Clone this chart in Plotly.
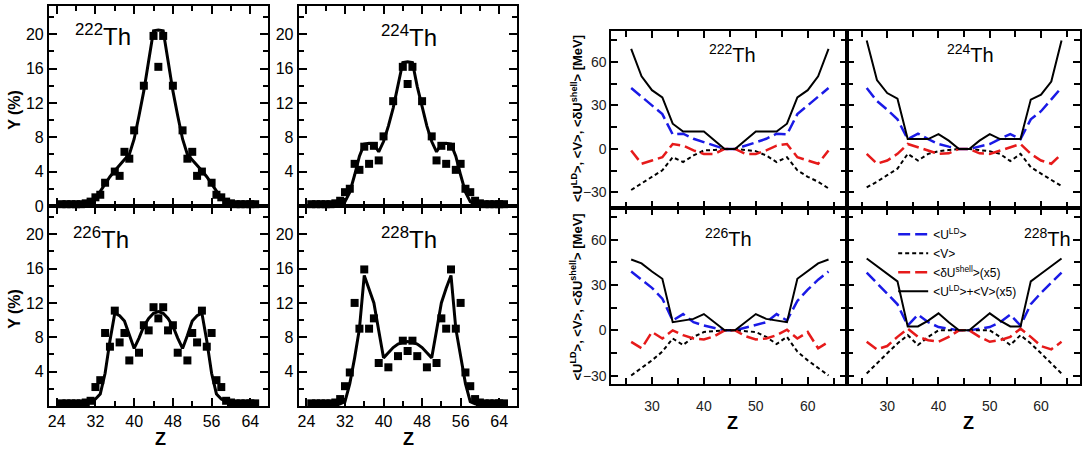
import plotly.graph_objects as go

FONT = "Liberation Sans, Arial, Helvetica, sans-serif"

# ---------------- Left: fragment yields Y(%) vs Z ----------------
Z_LINE = list(range(25, 66))

line_222 = [0.05, 0.05, 0.1, 0.1, 0.15, 0.25, 0.45, 0.9, 1.7, 2.6, 3.4, 4.1, 4.8, 5.4, 6.0, 7.8, 10.5, 13.4, 16.9, 20.4,
            20.5,
            20.4, 16.9, 13.4, 10.5, 7.8, 6.0, 5.4, 4.8, 4.1, 3.4, 2.6, 1.7, 0.9, 0.45, 0.25, 0.15, 0.1, 0.1, 0.05, 0.05]
line_224 = [0.02, 0.02, 0.03, 0.05, 0.08, 0.12, 0.2, 0.5, 1.6, 3.6, 5.8, 7.2, 7.3, 7.2, 6.3, 7.5, 9.3, 11.4, 13.9, 16.7,
            16.8,
            16.7, 13.9, 11.4, 9.3, 7.5, 6.3, 7.2, 7.3, 7.2, 5.8, 3.6, 1.6, 0.5, 0.2, 0.12, 0.08, 0.05, 0.03, 0.02, 0.02]
line_226 = [0.2, 0.2, 0.25, 0.3, 0.3, 0.4, 0.5, 0.8, 1.4, 3.8, 7.6, 10.8, 10.5, 9.9, 8.2, 6.7, 7.9, 9.3, 10.2, 10.8,
            11.0,
            10.8, 10.2, 9.3, 7.9, 6.7, 8.2, 9.9, 10.5, 10.8, 7.6, 3.8, 1.4, 0.8, 0.5, 0.4, 0.3, 0.3, 0.25, 0.2, 0.2]
line_228 = [0.05, 0.05, 0.05, 0.08, 0.1, 0.15, 0.25, 0.5, 2.6, 5.6, 9.0, 15.2, 13.7, 12.0, 8.8, 5.6, 6.2, 6.8, 7.2, 7.4,
            7.5,
            7.4, 7.2, 6.8, 6.2, 5.6, 8.8, 12.0, 13.7, 15.2, 9.0, 5.6, 2.6, 0.5, 0.25, 0.15, 0.1, 0.08, 0.05, 0.05, 0.05]

z_222 = [25, 26, 27, 28, 29, 30, 31, 32, 33, 34, 36, 37, 38, 39, 40, 42, 44, 45, 46, 48, 50, 51, 52, 53, 54, 56, 57, 58,
         59, 60, 61, 62, 63, 64, 65]
y_222 = [0.2, 0.2, 0.2, 0.2, 0.2, 0.3, 0.5, 1.0, 1.3, 2.7, 4.0, 3.5, 6.3, 5.5, 8.8, 14.0, 19.8, 16.2, 19.8, 14.0, 8.8,
         5.5, 6.3, 3.5, 4.0, 2.7, 1.3, 1.0, 0.5, 0.3, 0.2, 0.2, 0.2, 0.2, 0.2]

z_224 = [25, 26, 27, 28, 29, 30, 31, 32, 33, 34, 35, 36, 37, 38, 39, 40, 42, 44, 45, 46, 48, 50, 51, 52, 53, 54, 55, 56,
         57, 58, 59, 60, 61, 62, 63, 64, 65]
y_224 = [0.2, 0.2, 0.2, 0.2, 0.2, 0.3, 0.6, 1.6, 2.0, 4.9, 4.2, 6.9, 4.9, 7.0, 5.3, 8.1, 12.2, 16.2, 14.2, 16.2, 12.2,
         8.1, 5.3, 7.0, 4.9, 6.9, 4.2, 4.9, 2.0, 1.6, 0.6, 0.3, 0.2, 0.2, 0.2, 0.2, 0.2]

z_226 = [25, 26, 27, 28, 29, 30, 31, 32, 33, 34, 35, 36, 37, 38, 39, 41, 42, 43, 44, 45, 46, 47, 48, 49, 51, 52, 53, 54,
         55, 56, 57, 58, 59, 60, 61, 62, 63, 64, 65]
y_226 = [0.3, 0.3, 0.3, 0.3, 0.3, 0.4, 0.6, 2.2, 3.0, 8.5, 6.9, 11.1, 7.4, 8.5, 5.3, 6.2, 9.4, 8.8, 11.5, 10.2, 11.5,
         8.8, 9.4, 6.2, 5.3, 8.5, 7.4, 11.1, 6.9, 8.5, 3.0, 2.2, 0.6, 0.4, 0.3, 0.3, 0.3, 0.3, 0.3]

z_228 = [25, 26, 27, 28, 29, 30, 31, 32, 33, 34, 35, 36, 37, 38, 39, 41, 43, 44, 45, 46, 47, 49, 51, 52, 53, 54, 55, 56,
         57, 58, 59, 60, 61, 62, 63, 64, 65]
y_228 = [0.3, 0.3, 0.3, 0.3, 0.3, 0.4, 0.8, 2.3, 3.9, 12.0, 9.0, 15.9, 9.0, 10.2, 5.0, 4.5, 5.8, 7.6, 6.4, 7.6, 5.8,
         4.5, 5.0, 10.2, 9.0, 15.9, 9.0, 12.0, 3.9, 2.3, 0.8, 0.4, 0.3, 0.3, 0.3, 0.3, 0.3]

# ---------------- Right: potential energies vs Z ----------------
Z_E = [26, 28, 30, 32, 34, 36, 38, 40, 42, 44, 46, 48, 50, 52, 54, 56, 58, 60, 62, 64]

U_222 = [42, 36, 30, 24, 10, 10.5, 7, 4.5, 2, 0, 0, 2, 4.5, 7, 10.5, 10, 24, 30, 36, 42]
V_222 = [-28.3, -23.8, -19.2, -14.7, -5.7, -9, -4.5, -1, -0.7, 0, 0, -0.7, -1.5, -4.5, -9, -5.7, -14.7, -19.2, -22.6, -27.2]
dU_222 = [-1, -10.2, -8, -5.7, 3.4, 2.3, -1, -3.4, -3.4, 0, 0, -3.4, -3.4, -1, 2.3, 3.4, -5.7, -8, -10.2, -1]
S_222 = [69, 50, 40.5, 35.5, 17.4, 12, 12, 12, 6, 0, 0, 6, 12, 12, 12, 17.4, 35.5, 40.5, 50, 69]

U_224 = [42, 33, 27, 20.4, 6.8, 10.6, 6.8, 3.4, 1.6, 0, 0, 1.6, 3.4, 7.0, 10.2, 6.8, 20.4, 26, 34, 42.3]
V_224 = [-26.5, -22.6, -18.1, -13.6, -3.4, -8, -3.4, -1.6, -0.7, 0, 0, -0.7, -1.6, -3.4, -8.4, -3.4, -12.5, -17, -21, -25.6]
dU_224 = [-3.4, -10.2, -8, -3.4, 3.4, 1.1, -1.1, -3.4, -3, 0, 0, -3, -3.4, -1.1, 1.1, 3.4, -3.4, -8, -10.2, -3.4]
S_224 = [74.7, 47.5, 38.5, 34.6, 6.8, 6.8, 6.8, 10.2, 5.7, 0, 0, 5.7, 10.2, 6.8, 6.8, 6.8, 34, 37.4, 46.4, 74.7]

U_226 = [39, 33.6, 28.2, 21, 6.5, 10.8, 5.4, 3.2, 1.7, 0, 0, 1.7, 3.2, 5.4, 10.8, 6.5, 19.5, 27, 33.6, 39]
V_226 = [-29.9, -24.9, -19.9, -14.1, -5.4, -9.7, -4.3, -1.1, -0.4, 0, 0, -0.4, -1.1, -4.3, -9.1, -4.3, -14.1, -19.9, -24.9, -29.9]
dU_226 = [-7.6, -11.9, -1.1, -5.4, 0, -3.2, -5.4, -6.1, -3.9, 0, 0, -3.9, -6.1, -5.4, -3.2, 0.4, -5.4, -1.1, -11.9, -7.6]
S_226 = [47, 44.4, 39, 34.2, 5.4, 6.5, 7.6, 10.8, 5.4, 0, 0, 5.4, 10.8, 7.6, 6.5, 5.4, 34.2, 39, 44.4, 47]

U_228 = [38.3, 31.4, 24.9, 17.3, 3.2, 10.4, 5.4, 2.2, 1.1, 0, 0, 1.1, 2.2, 5.4, 10.4, 3.2, 17.3, 24.9, 31.4, 38.3]
V_228 = [-28.6, -21.7, -15.2, -8.7, -3.2, -9.7, -4.3, 0, 0, 0, 0, 0, 0, -4.3, -9.7, -3.2, -8.7, -15.2, -21.7, -28.6]
dU_228 = [-7.6, -12.6, -10.4, -4.3, 1.1, -4.3, -6.5, -7.6, -4.3, 0, 0, -4.3, -7.6, -6.5, -4.3, 1.1, -4.3, -10.4, -12.6, -7.6]
S_228 = [47.6, 42.6, 37.5, 32.5, 2.6, 2.6, 6.5, 11.3, 5.4, 0, 0, 5.4, 11.3, 6.5, 2.6, 2.6, 32.5, 37.5, 42.6, 47.6]

NUCLEI = ["222", "224", "226", "228"]
LEGEND_NAMES = ["&lt;U<sup>LD</sup>&gt;", "&lt;V&gt;", "&lt;δU<sup>shell</sup>&gt;(x5)", "&lt;U<sup>LD</sup>&gt;+&lt;V&gt;(x5)"]

W, H = 1083, 462
fig = go.Figure()


def px_x(v):
    return v / W


def px_y(v):
    return 1 - v / H


# ---- left panels ----
yield_sets = [(line_222, z_222, y_222), (line_224, z_224, y_224), (line_226, z_226, y_226), (line_228, z_228, y_228)]
for i, (ln, zs, ys) in enumerate(yield_sets):
    ax = i + 1
    fig.add_trace(go.Scatter(x=Z_LINE, y=ln, mode="lines", line=dict(color="black", width=3),
                             xaxis=f"x{ax}", yaxis=f"y{ax}", showlegend=False, hoverinfo="skip"))
    fig.add_trace(go.Scatter(x=zs, y=ys, mode="markers", marker=dict(symbol="square", size=8, color="black"),
                             cliponaxis=False, xaxis=f"x{ax}", yaxis=f"y{ax}", showlegend=False, hoverinfo="skip"))

# ---- right panels ----
energy_sets = [(U_222, V_222, dU_222, S_222), (U_224, V_224, dU_224, S_224),
               (U_226, V_226, dU_226, S_226), (U_228, V_228, dU_228, S_228)]
styles = [dict(color="#1a1ae6", width=2.5, dash="12px,5px"),
          dict(color="black", width=2, dash="4px,3px"),
          dict(color="#e61a1a", width=2.5, dash="12px,5px"),
          dict(color="black", width=2)]
for i, series in enumerate(energy_sets):
    ax = i + 5
    for j, vals in enumerate(series):
        fig.add_trace(go.Scatter(x=Z_E, y=vals, mode="lines", line=styles[j], name=LEGEND_NAMES[j],
                                 xaxis=f"x{ax}", yaxis=f"y{ax}", showlegend=(ax == 8), hoverinfo="skip"))

# ---- axes ----
L_XDOM = [[48, 267], [298, 516]]
R_XDOM = [[611, 847], [847, 1080]]
L_YDOM = [[6, 210], [210, 414]]
R_YDOM = [[32, 212], [212, 392]]


def xd(p):
    return [px_x(p[0]), px_x(p[1])]


def yd(p):
    return [px_y(p[1]), px_y(p[0])]


common = dict(showline=True, linecolor="black", linewidth=2, mirror="ticks", ticks="inside",
              tickcolor="black", showgrid=False, zeroline=False)

layout = dict(width=W, height=H, margin=dict(l=0, r=0, t=0, b=0), paper_bgcolor="white",
              plot_bgcolor="white", font=dict(family=FONT, color="black"))

for i in range(4):
    ax = i + 1
    col, row = i % 2, i // 2
    layout[f"xaxis{ax}"] = dict(common, domain=xd(L_XDOM[col]), range=[22.4, 67.6], anchor=f"y{ax}",
                                ticklen=8, tickwidth=1.5, tickmode="array", tickvals=[24, 32, 40, 48, 56, 64],
                                showticklabels=(row == 1), tickfont=dict(family=FONT, size=16, color="black"),
                                minor=dict(ticks="inside", ticklen=5, tickwidth=1.5, tickcolor="black",
                                           tickmode="linear", tick0=24, dtick=4))
    ytv = [0, 4, 8, 12, 16, 20] if ax == 1 else [4, 8, 12, 16, 20]
    layout[f"yaxis{ax}"] = dict(common, domain=yd(L_YDOM[row]), range=[0, 23.3], anchor=f"x{ax}",
                                ticklen=8, tickwidth=1.5, tickmode="array", tickvals=ytv,
                                tickfont=dict(family=FONT, size=16, color="black"),
                                minor=dict(ticks="inside", ticklen=5, tickwidth=1.5, tickcolor="black",
                                           tickmode="linear", tick0=0, dtick=2))

for i in range(4):
    ax = i + 5
    col, row = i % 2, i // 2
    layout[f"xaxis{ax}"] = dict(common, domain=xd(R_XDOM[col]), range=[22.2, 67.6], anchor=f"y{ax}",
                                ticklen=7, tickwidth=1.5, tickmode="array", tickvals=[30, 40, 50, 60],
                                showticklabels=(row == 1), ticklabelstandoff=8,
                                tickfont=dict(family=FONT, size=14, color="#222"),
                                minor=dict(ticks="inside", ticklen=6, tickwidth=1.5, tickcolor="black",
                                           tickmode="linear", tick0=25, dtick=5))
    yr = [-40.6, 81] if row == 0 else [-35.8, 81.2]
    layout[f"yaxis{ax}"] = dict(common, domain=yd(R_YDOM[row]), range=yr, anchor=f"x{ax}",
                                ticklen=7, tickwidth=1.5, tickmode="array", tickvals=[-30, 0, 30, 60],
                                showticklabels=(col == 0),
                                tickfont=dict(family=FONT, size=14, color="#222"),
                                minor=dict(ticks="inside", ticklen=6, tickwidth=1.5, tickcolor="black",
                                           tickmode="linear", tick0=15, dtick=30))

layout["legend"] = dict(x=px_x(893), y=px_y(224), xanchor="left", yanchor="top", bgcolor="rgba(0,0,0,0)",
                        font=dict(family=FONT, size=12, color="black"), borderwidth=0, tracegroupgap=0)

ann = []
# panel labels
L_LAB = [(72, 36), (378, 37), (70, 243), (378, 243)]
R_LAB = [(707, 55), (945, 55), (703, 242), (1022, 242)]
for k, nuc in enumerate(NUCLEI):
    x, y = L_LAB[k]
    ann.append(dict(text=f"<sup>{nuc}</sup>Th", x=px_x(x), y=px_y(y), xref="paper", yref="paper",
                    xanchor="left", yanchor="middle", showarrow=False, font=dict(family=FONT, size=24, color="black")))
    x, y = R_LAB[k]
    ann.append(dict(text=f"<sup>{nuc}</sup>Th", x=px_x(x), y=px_y(y), xref="paper", yref="paper",
                    xanchor="left", yanchor="middle", showarrow=False, font=dict(family=FONT, size=20, color="black")))

# axis titles
for y in (112, 315):
    ann.append(dict(text="<b>Y (%)</b>", x=px_x(14), y=px_y(y), xref="paper", yref="paper", textangle=-90,
                    showarrow=False, xanchor="center", yanchor="middle", font=dict(family=FONT, size=16, color="black")))
for y in (121, 303):
    ann.append(dict(text="<b>&lt;U<sup>LD</sup>&gt;, &lt;V&gt;, &lt;δU<sup>shell</sup>&gt; [MeV]</b>",
                    x=px_x(576), y=px_y(y), xref="paper", yref="paper", textangle=-90, showarrow=False,
                    xanchor="center", yanchor="middle", font=dict(family=FONT, size=13, color="black")))
for x, y in ((160, 448), (408, 448), (732, 431), (968, 431)):
    ann.append(dict(text="<b>Z</b>", x=px_x(x), y=px_y(y), xref="paper", yref="paper", showarrow=False,
                    xanchor="center", yanchor="middle", font=dict(family=FONT, size=18, color="black")))

layout["annotations"] = ann
fig.update_layout(**layout)
fig.write_html("out.html")
